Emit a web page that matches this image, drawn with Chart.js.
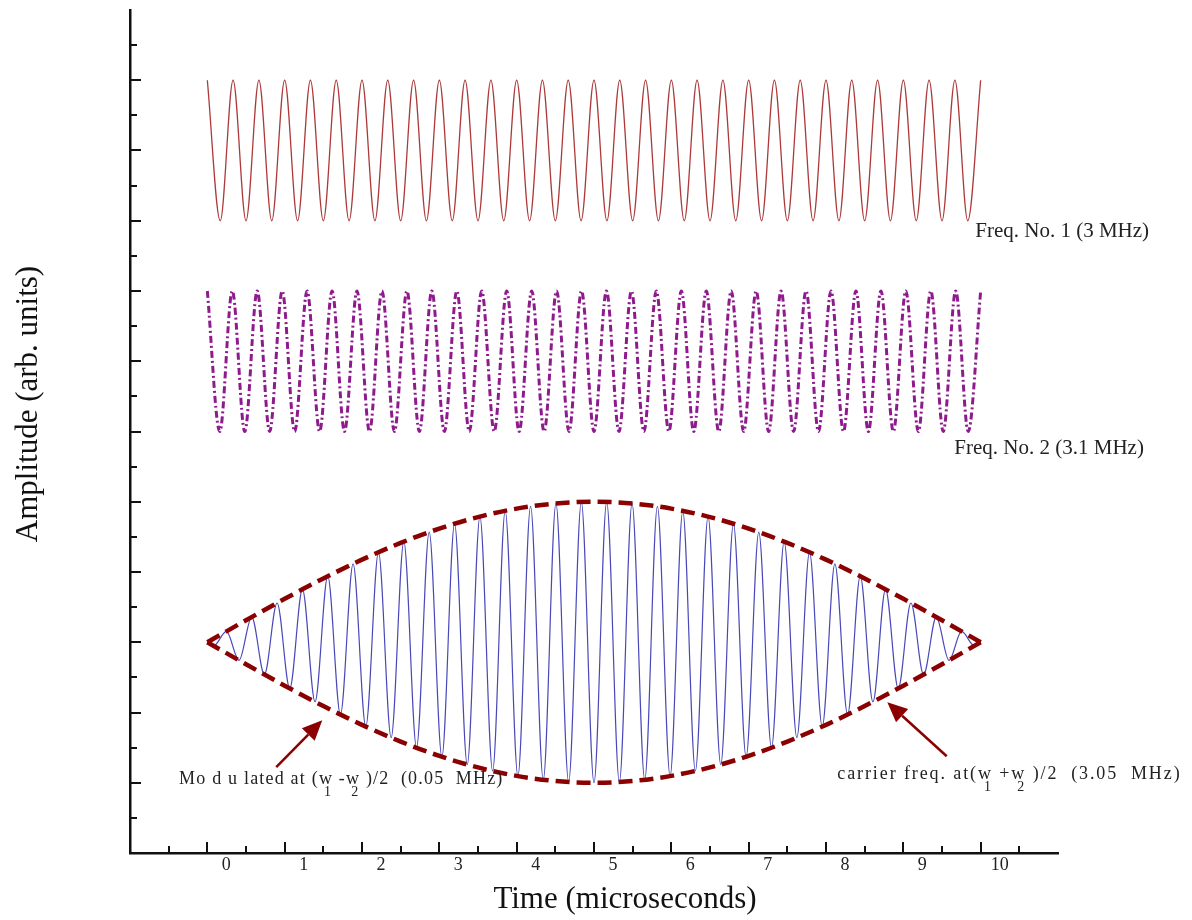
<!DOCTYPE html>
<html>
<head>
<meta charset="utf-8">
<title>Beat frequency</title>
<script src="https://cdn.jsdelivr.net/npm/chart.js@4.4.1/dist/chart.umd.min.js"></script>
<style>
  html, body { margin: 0; padding: 0; background: #fff; }
  #wrap { width: 1192px; height: 920px; }
</style>
</head>
<body>
<div id="wrap"><canvas id="beat-chart" width="1192" height="920"></canvas></div>
<script>
(function () {
  "use strict";

  // time axis labels (microseconds)
  const xTickLabels = ["0", "1", "2", "3", "4", "5", "6", "7", "8", "9", "10"];

  // Freq. No. 1 (3 MHz) - crests and troughs
  const freq1Time = [0, 0.167, 0.333, 0.5, 0.667, 0.833, 1, 1.167, 1.333, 1.5, 1.667, 1.833,
    2, 2.167, 2.333, 2.5, 2.667, 2.833, 3, 3.167, 3.333, 3.5, 3.667, 3.833,
    4, 4.167, 4.333, 4.5, 4.667, 4.833, 5, 5.167, 5.333, 5.5, 5.667, 5.833,
    6, 6.167, 6.333, 6.5, 6.667, 6.833, 7, 7.167, 7.333, 7.5, 7.667, 7.833,
    8, 8.167, 8.333, 8.5, 8.667, 8.833, 9, 9.167, 9.333, 9.5, 9.667, 9.833, 10];
  const freq1Amp = [8, 6, 8, 6, 8, 6, 8, 6, 8, 6, 8, 6, 8, 6, 8, 6, 8, 6, 8, 6,
    8, 6, 8, 6, 8, 6, 8, 6, 8, 6, 8, 6, 8, 6, 8, 6, 8, 6, 8, 6,
    8, 6, 8, 6, 8, 6, 8, 6, 8, 6, 8, 6, 8, 6, 8, 6, 8, 6, 8, 6, 8];

  // Freq. No. 2 (3.1 MHz)
  const freq2Time = [0, 0.161, 0.323, 0.484, 0.645, 0.806, 0.968, 1.129, 1.29, 1.452, 1.613,
    1.774, 1.935, 2.097, 2.258, 2.419, 2.581, 2.742, 2.903, 3.065, 3.226, 3.387,
    3.548, 3.71, 3.871, 4.032, 4.194, 4.355, 4.516, 4.677, 4.839, 5, 5.161,
    5.323, 5.484, 5.645, 5.806, 5.968, 6.129, 6.29, 6.452, 6.613, 6.774, 6.935,
    7.097, 7.258, 7.419, 7.581, 7.742, 7.903, 8.065, 8.226, 8.387, 8.548, 8.71,
    8.871, 9.032, 9.194, 9.355, 9.516, 9.677, 9.839, 10];
  const freq2Amp = [5, 3, 5, 3, 5, 3, 5, 3, 5, 3, 5, 3, 5, 3, 5, 3, 5, 3, 5, 3,
    5, 3, 5, 3, 5, 3, 5, 3, 5, 3, 5, 3, 5, 3, 5, 3, 5, 3, 5, 3,
    5, 3, 5, 3, 5, 3, 5, 3, 5, 3, 5, 3, 5, 3, 5, 3, 5, 3, 5, 3, 5, 3, 5];

  // sum signal, carrier 3.05 MHz
  const beatTime = [0, 0.082, 0.246, 0.41, 0.574, 0.738, 0.902, 1.066, 1.23, 1.393, 1.557,
    1.721, 1.885, 2.049, 2.213, 2.377, 2.541, 2.705, 2.869, 3.033, 3.197, 3.361,
    3.525, 3.689, 3.852, 4.016, 4.18, 4.344, 4.508, 4.672, 4.836, 5, 5.164,
    5.328, 5.492, 5.656, 5.82, 5.984, 6.148, 6.311, 6.475, 6.639, 6.803, 6.967,
    7.131, 7.295, 7.459, 7.623, 7.787, 7.951, 8.115, 8.279, 8.443, 8.607, 8.77,
    8.934, 9.098, 9.262, 9.426, 9.59, 9.754, 9.918, 10];
  const beatAmp = [0, -0.052, 0.154, -0.257, 0.359, -0.459, 0.559, -0.657, 0.753, -0.848, 0.94,
    -1.03, 1.116, -1.2, 1.281, -1.358, 1.432, -1.502, 1.569, -1.631, 1.688, -1.741,
    1.789, -1.833, 1.871, -1.905, 1.934, -1.958, 1.976, -1.99, 1.997, -2, 1.997,
    -1.99, 1.976, -1.958, 1.934, -1.905, 1.871, -1.833, 1.789, -1.741, 1.688, -1.631,
    1.569, -1.502, 1.432, -1.358, 1.281, -1.2, 1.116, -1.03, 0.94, -0.848, 0.753,
    -0.657, 0.559, -0.459, 0.359, -0.257, 0.154, -0.052, 0];

  // modulation envelope
  const envTime = [0, 0.5, 1, 1.5, 2, 2.5, 3, 3.5, 4, 4.5, 5, 5.5, 6, 6.5, 7, 7.5, 8, 8.5, 9, 9.5, 10];
  const envUpper = [0, 0.313, 0.618, 0.908, 1.176, 1.414, 1.618, 1.782, 1.902, 1.975, 2,
    1.975, 1.902, 1.782, 1.618, 1.414, 1.176, 0.908, 0.618, 0.313, 0];
  const envLower = [0, -0.313, -0.618, -0.908, -1.176, -1.414, -1.618, -1.782, -1.902, -1.975, -2,
    -1.975, -1.902, -1.782, -1.618, -1.414, -1.176, -0.908, -0.618, -0.313, 0];

  // annotations, anchored in data units
  const labelFreq1 = { text: "Freq. No. 1 (3 MHz)", x: 9.93, y: 5.77 };
  const labelFreq2 = { text: "Freq. No. 2 (3.1 MHz)", x: 9.66, y: 2.68 };
  const labelModulated = { x: -0.366, y: -2.02, spacing: 1.2,
    parts: ["Mo d u lated at (", "w", "1", " -", "w", "2", " )/2  (0.05  MHz)"] };
  const labelCarrier = { x: 8.146, y: -1.95, spacing: 1.9,
    parts: ["carrier freq. at(", "w", "1", " +", "w", "2", " )/2  (3.05  MHz)"] };
  const arrowModulated = { from: [0.891, -1.779], to: [1.486, -1.11] };
  const arrowCarrier = { from: [9.561, -1.623], to: [8.793, -0.854] };

  const SERIF = "'Liberation Serif', 'DejaVu Serif', serif";
  const DARK_RED = "#8b0000";

  function toPoints(xs, ys) {
    return xs.map((x, i) => ({ x: x, y: ys[i] }));
  }

  function drawLabel(ctx, chart, label) {
    const { x, y } = chart.scales;
    ctx.font = "21px " + SERIF;
    ctx.fillStyle = "#222";
    ctx.textBaseline = "alphabetic";
    ctx.textAlign = "left";
    ctx.fillText(label.text, x.getPixelForValue(label.x), y.getPixelForValue(label.y));
  }

  // text with w subscripts: parts = [text, w, sub, text, w, sub, text]
  function drawFormulaLabel(ctx, chart, label) {
    const { x, y } = chart.scales;
    let px = x.getPixelForValue(label.x);
    const py = y.getPixelForValue(label.y);
    ctx.fillStyle = "#222";
    ctx.textAlign = "left";
    ctx.textBaseline = "alphabetic";
    ctx.letterSpacing = label.spacing + "px";
    label.parts.forEach((part, i) => {
      if (i === 2 || i === 5) {
        ctx.font = "14px " + SERIF;
        ctx.fillText(part, px - 9, py + 12);
        return;
      }
      ctx.font = "18px " + SERIF;
      ctx.fillText(part, px, py);
      px += ctx.measureText(part).width;
    });
    ctx.letterSpacing = "0px";
  }

  function drawArrow(ctx, chart, arrow) {
    const { x, y } = chart.scales;
    const x1 = x.getPixelForValue(arrow.from[0]);
    const y1 = y.getPixelForValue(arrow.from[1]);
    const x2 = x.getPixelForValue(arrow.to[0]);
    const y2 = y.getPixelForValue(arrow.to[1]);
    const ang = Math.atan2(y2 - y1, x2 - x1);
    const head = 20;
    const half = 9;
    const bx = x2 - head * Math.cos(ang);
    const by = y2 - head * Math.sin(ang);

    ctx.strokeStyle = DARK_RED;
    ctx.fillStyle = DARK_RED;
    ctx.lineWidth = 2.5;
    ctx.beginPath();
    ctx.moveTo(x1, y1);
    ctx.lineTo(bx, by);
    ctx.stroke();

    ctx.beginPath();
    ctx.moveTo(x2, y2);
    ctx.lineTo(bx + half * Math.sin(ang), by - half * Math.cos(ang));
    ctx.lineTo(bx - half * Math.sin(ang), by + half * Math.cos(ang));
    ctx.closePath();
    ctx.fill();
  }

  const overlayPlugin = {
    id: "overlay",
    afterDraw(chart) {
      const { ctx, scales: { x, y } } = chart;
      ctx.save();

      // inward tick marks, major every unit, minor every half unit
      ctx.strokeStyle = "#111";
      ctx.lineWidth = 2;
      ctx.beginPath();
      for (let v = x.min + 0.5; v < x.max; v += 0.5) {
        const px = Math.round(x.getPixelForValue(v));
        const len = Number.isInteger(v) ? 11 : 7;
        ctx.moveTo(px, y.bottom);
        ctx.lineTo(px, y.bottom - len);
      }
      for (let v = y.min + 0.5; v < y.max; v += 0.5) {
        const py = Math.round(y.getPixelForValue(v));
        const len = Number.isInteger(v) ? 11 : 7;
        ctx.moveTo(x.left, py);
        ctx.lineTo(x.left + len, py);
      }
      ctx.stroke();

      // axis titles
      ctx.fillStyle = "#111";
      ctx.font = "31px " + SERIF;
      ctx.textAlign = "center";
      ctx.textBaseline = "alphabetic";
      ctx.fillText("Time (microseconds)", 625, 908);

      ctx.save();
      ctx.translate(37, 404);
      ctx.rotate(-Math.PI / 2);
      ctx.fillText("Amplitude (arb. units)", 0, 0);
      ctx.restore();

      drawLabel(ctx, chart, labelFreq1);
      drawLabel(ctx, chart, labelFreq2);
      drawFormulaLabel(ctx, chart, labelModulated);
      drawFormulaLabel(ctx, chart, labelCarrier);
      drawArrow(ctx, chart, arrowModulated);
      drawArrow(ctx, chart, arrowCarrier);

      ctx.restore();
    },
  };

  const ctx = document.getElementById("beat-chart");

  new Chart(ctx, {
    type: "line",
    data: {
      datasets: [
        {
          label: "Envelope (upper)",
          data: toPoints(envTime, envUpper),
          borderColor: DARK_RED,
          borderWidth: 4.5,
          borderDash: [14, 7],
          cubicInterpolationMode: "monotone",
          order: 0,
        },
        {
          label: "Envelope (lower)",
          data: toPoints(envTime, envLower),
          borderColor: DARK_RED,
          borderWidth: 4.5,
          borderDash: [14, 7],
          cubicInterpolationMode: "monotone",
          order: 0,
        },
        {
          label: "Sum signal",
          data: toPoints(beatTime, beatAmp),
          borderColor: "#4848b8",
          borderWidth: 1.2,
          cubicInterpolationMode: "monotone",
          order: 1,
        },
        {
          label: "Freq. No. 2 (3.1 MHz)",
          data: toPoints(freq2Time, freq2Amp),
          borderColor: "#8e1a8e",
          borderWidth: 3,
          borderDash: [7, 3, 2, 3],
          cubicInterpolationMode: "monotone",
          order: 2,
        },
        {
          label: "Freq. No. 1 (3 MHz)",
          data: toPoints(freq1Time, freq1Amp),
          borderColor: "#ac3a3a",
          borderWidth: 1.3,
          cubicInterpolationMode: "monotone",
          order: 3,
        },
      ],
    },
    options: {
      responsive: false,
      animation: false,
      layout: { padding: { top: 10, right: 134, left: 0, bottom: 0 } },
      elements: { point: { radius: 0, hoverRadius: 0 } },
      plugins: {
        legend: { display: false },
        tooltip: { enabled: false },
      },
      scales: {
        x: {
          type: "linear",
          min: -1,
          max: 11,
          grid: { display: false, drawTicks: false },
          border: { display: true, color: "#111", width: 2.5 },
          ticks: {
            stepSize: 1,
            padding: 1,
            labelOffset: 19,
            color: "#222",
            font: { family: SERIF, size: 18 },
            maxRotation: 0,
            autoSkip: false,
            callback: (value) => xTickLabels[value] || "",
          },
          afterFit: (scale) => { scale.height = 67; },
        },
        y: {
          type: "linear",
          min: -3,
          max: 9,
          grid: { display: false, drawTicks: false },
          border: { display: true, color: "#111", width: 2.5 },
          ticks: { display: false },
          afterFit: (scale) => { scale.width = 130; },
        },
      },
    },
    plugins: [overlayPlugin],
  });
})();
</script>
</body>
</html>
